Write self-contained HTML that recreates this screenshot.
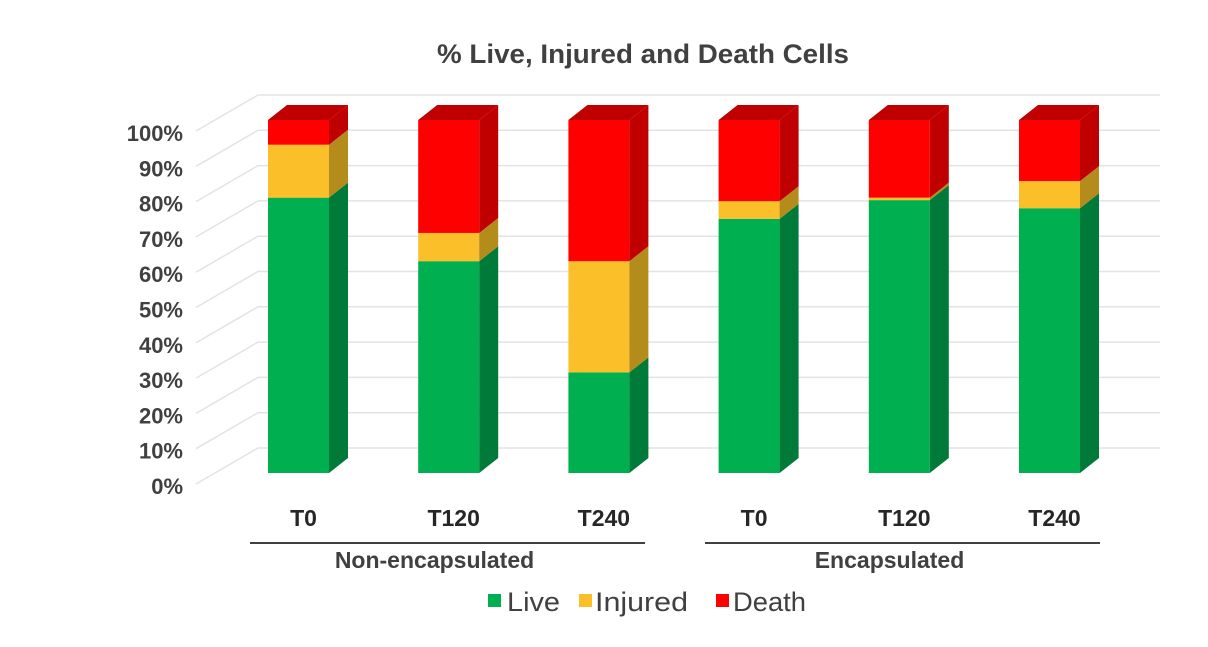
<!DOCTYPE html>
<html><head><meta charset="utf-8"><style>
body{margin:0;background:#fff;font-family:"Liberation Sans",Arial,sans-serif}
svg text{font-family:"Liberation Sans",Arial,sans-serif}
</style></head><body>
<svg id="c" width="1208" height="642" viewBox="0 0 1208 642">
<text x="643" y="63" text-anchor="middle" font-size="27" font-weight="bold" fill="#404040" textLength="412" lengthAdjust="spacingAndGlyphs">% Live, Injured and Death Cells</text>
<g id="grid"></g><g id="ylab"></g><g id="bars"></g><g id="xlab"></g>
<g>
<rect x="488" y="594" width="13" height="13" fill="#00b050"/>
<text x="507" y="611" font-size="27" fill="#404040" textLength="53" lengthAdjust="spacingAndGlyphs">Live</text>
<rect x="579" y="594" width="13" height="13" fill="#fbbf2a"/>
<text x="595" y="611" font-size="27" fill="#404040" textLength="93" lengthAdjust="spacingAndGlyphs">Injured</text>
<rect x="716" y="594" width="13" height="13" fill="#ff0000"/>
<text x="733" y="611" font-size="27" fill="#404040" textLength="73" lengthAdjust="spacingAndGlyphs">Death</text>
</g>
</svg>
<script>
const categories=["T0","T120","T240","T0","T120","T240"];
const groups=["Non-encapsulated","Encapsulated"];
const live=[78,60,28.5,72,77.3,75];
const injured=[15,8,31.5,5,0.7,7.7];
const death=[7,32,40,23,22,17.3];
const yTicks=[0,10,20,30,40,50,60,70,80,90,100];
const NS="http://www.w3.org/2000/svg";
const svg=document.getElementById('c');
const y0=473,yTop=120;
function y(v){return y0-(y0-yTop)*v/100;}
function bx(i){return 268+i*150.2;}
const BW=61,DX=19,DY=15;
function mk(t,a,p){const e=document.createElementNS(NS,t);for(const k in a)e.setAttribute(k,a[k]);p.appendChild(e);return e;}
const grid=document.getElementById('grid'),ylab=document.getElementById('ylab');
yTicks.forEach(v=>{
  const fy=y(v)+11, by=fy-36;
  const l=mk('polyline',{points:`196,${fy} 258,${by} 1160,${by}`,fill:'none',stroke:'#e3e3e3','stroke-width':1.5},grid);
  
  
  const t=mk('text',{x:183,y:fy+10,'text-anchor':'end','font-size':22,'font-weight':'bold',fill:'#404040'},ylab);
  t.textContent=v+'%';
  
  
});
const bars=document.getElementById('bars');
const cols=[['#00b050','#007a38','#00903f'],['#fbbf2a','#b48c1c','#d9a520'],['#ff0000','#c00000','#c00000']];
const series=[live,injured,death];const sn=['live','injured','death'];
categories.forEach((c,i)=>{
  let base=0;const x=bx(i);
  series.forEach((s,k)=>{
    const v=s[i];const yb=y(base),yt=y(base+v);base+=v;
    const g=mk('g',{},bars);
    
    
    mk('rect',{x:x,y:yt,width:BW,height:Math.max(0,yb-yt),fill:cols[k][0]},g);
    mk('polygon',{points:`${x+BW},${yb} ${x+BW+DX},${yb-DY} ${x+BW+DX},${yt-DY} ${x+BW},${yt}`,fill:cols[k][1]},g);
    if(k===2) mk('polygon',{points:`${x},${yt} ${x+DX},${yt-DY} ${x+BW+DX},${yt-DY} ${x+BW},${yt}`,fill:cols[k][2]},g);
  });
  const t=mk('text',{x:x+BW/2+5,y:526,'text-anchor':'middle','font-size':23,'font-weight':'bold',fill:'#262626'},document.getElementById('xlab'));
  t.textContent=c;
  
  
});
const xl=document.getElementById('xlab');
[[250,645],[705,1100]].forEach((r,j)=>{
  const l=mk('line',{x1:r[0],x2:r[1],y1:543,y2:543,stroke:'#404040','stroke-width':2},xl);
  
  
  const t=mk('text',{x:(r[0]+r[1])/2-13,y:568,'text-anchor':'middle','font-size':23,'font-weight':'bold',fill:'#404040'},xl);
  t.textContent=groups[j];
  
  
});
</script>
</body></html>
